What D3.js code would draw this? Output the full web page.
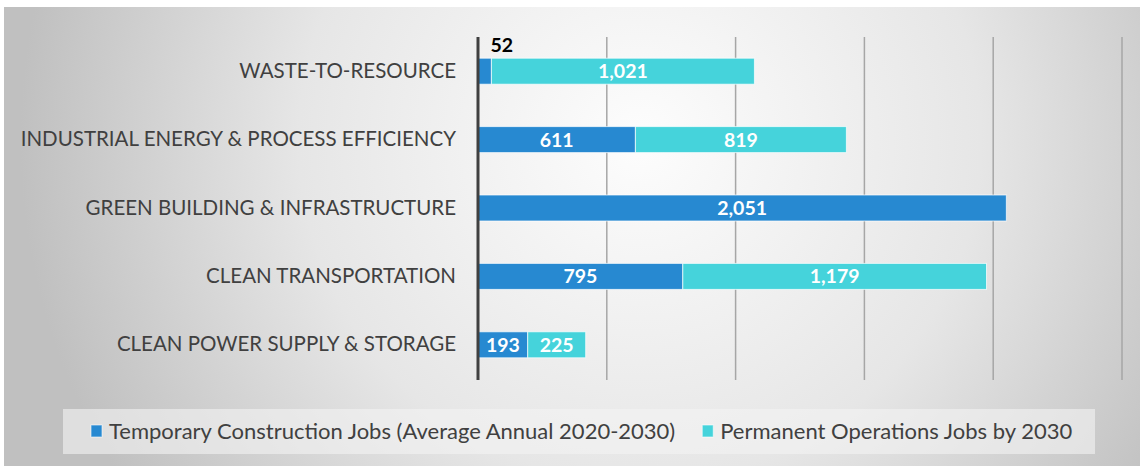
<!DOCTYPE html>
<html>
<head>
<meta charset="utf-8">
<script src="https://cdn.jsdelivr.net/npm/d3@7"></script>
<style>
  body { margin: 0; background: #fff; }
  svg { display: block; font-family: Lato, "Open Sans", sans-serif; }
</style>
</head>
<body>
<svg id="chart"></svg>
<script>
// chart data
var categories = [
    "WASTE-TO-RESOURCE",
    "INDUSTRIAL ENERGY & PROCESS EFFICIENCY",
    "GREEN BUILDING & INFRASTRUCTURE",
    "CLEAN TRANSPORTATION",
    "CLEAN POWER SUPPLY & STORAGE"
];
var temporaryJobs = [52, 611, 2051, 795, 193];
var permanentJobs = [1021, 819, 0, 1179, 225];
var seriesNames = [
    "Temporary Construction Jobs (Average Annual 2020-2030)",
    "Permanent Operations Jobs by 2030"
];
var xTicks = [0, 500, 1000, 1500, 2000, 2500];

var W = 1140, H = 466;
var colors = ["#2789d1", "#45d3db"];

var svg = d3.select("#chart").attr("width", W).attr("height", H);

// background with soft radial shading
var defs = svg.append("defs");
var grad = defs.append("radialGradient")
    .attr("id", "bg")
    .attr("gradientUnits", "userSpaceOnUse")
    .attr("cx", 640).attr("cy", 140).attr("r", 620);
grad.append("stop").attr("offset", "0").attr("stop-color", "#fdfdfd");
grad.append("stop").attr("offset", "0.55").attr("stop-color", "#e6e6e6");
grad.append("stop").attr("offset", "1").attr("stop-color", "#c0c0c0");

svg.append("rect").attr("width", W).attr("height", H).attr("fill", "#fff");
svg.append("rect")
    .attr("x", 4).attr("y", 7)
    .attr("width", W - 4).attr("height", H - 7)
    .attr("fill", "url(#bg)");

var rows = categories.map(function (c, i) {
    return { category: c, temp: temporaryJobs[i], perm: permanentJobs[i] };
});

var x = d3.scaleLinear().domain([0, d3.max(xTicks)]).range([478, 1122]);
var y = d3.scaleBand().domain(categories).range([37, 379])
    .paddingInner(0.62).paddingOuter(0.31);

// gridlines
svg.append("g")
    .selectAll("line")
    .data(xTicks.slice(1))
    .enter().append("line")
    .attr("x1", function (d) { return x(d); })
    .attr("x2", function (d) { return x(d); })
    .attr("y1", 37).attr("y2", 380)
    .attr("stroke", "#a6a6a6")
    .attr("stroke-width", 1.5);

// category axis
var yAxis = svg.append("g")
    .attr("transform", "translate(" + x(0) + ",0)")
    .call(d3.axisLeft(y).tickSize(0).tickPadding(22));
yAxis.select(".domain").remove();
yAxis.selectAll("text")
    .attr("fill", "#404040")
    .style("font-family", "Lato, sans-serif")
    .style("font-size", "20.5px");

// stacked bars
var stack = d3.stack().keys(["temp", "perm"]);
var layers = stack(rows);

var layer = svg.selectAll(".layer")
    .data(layers)
    .enter().append("g")
    .attr("class", "layer")
    .attr("fill", function (d, i) { return colors[i]; });

layer.selectAll("rect")
    .data(function (d) { return d.filter(function (s) { return s[1] > s[0]; }); })
    .enter().append("rect")
    .attr("x", function (d) { return x(d[0]); })
    .attr("y", function (d) { return y(d.data.category); })
    .attr("width", function (d) { return x(d[1]) - x(d[0]); })
    .attr("height", y.bandwidth())
    .attr("stroke", "rgba(255,255,255,0.7)")
    .attr("stroke-width", 1);

// value labels
var fmt = d3.format(",");
layer.selectAll("text")
    .data(function (d) { return d.filter(function (s) { return s[1] > s[0]; }); })
    .enter().append("text")
    .each(function (d) {
        var t = d3.select(this);
        var w = x(d[1]) - x(d[0]);
        var v = d[1] - d[0];
        t.text(fmt(v))
            .style("font-weight", "bold")
            .style("font-size", "19.5px");
        if (w > 30) {
            t.attr("x", (x(d[0]) + x(d[1])) / 2)
                .attr("y", y(d.data.category) + y.bandwidth() / 2)
                .attr("dy", "0.36em")
                .attr("text-anchor", "middle")
                .attr("fill", "#fff");
        } else {
            t.attr("x", x(d[1]) - 1)
                .attr("y", y(d.data.category) - 6)
                .attr("text-anchor", "start")
                .attr("fill", "#000");
        }
    });

// axis line at zero
svg.append("line")
    .attr("x1", x(0)).attr("x2", x(0))
    .attr("y1", 37).attr("y2", 380)
    .attr("stroke", "#404040")
    .attr("stroke-width", 3);

// legend
svg.append("rect")
    .attr("x", 63).attr("y", 409)
    .attr("width", 1032).attr("height", 45)
    .attr("fill", "#f4f4f4")
    .attr("fill-opacity", 0.6);

var lx = 91;
seriesNames.forEach(function (name, i) {
    svg.append("rect")
        .attr("x", lx).attr("y", 425)
        .attr("width", 11).attr("height", 12)
        .attr("fill", colors[i])
        .attr("stroke", "rgba(255,255,255,0.6)");
    var t = svg.append("text")
        .attr("x", lx + 18).attr("y", 439)
        .attr("fill", "#404040")
        .style("font-size", "22px")
        .text(name);
    lx += 18 + t.node().getComputedTextLength() + 27;
});
</script>
</body>
</html>
